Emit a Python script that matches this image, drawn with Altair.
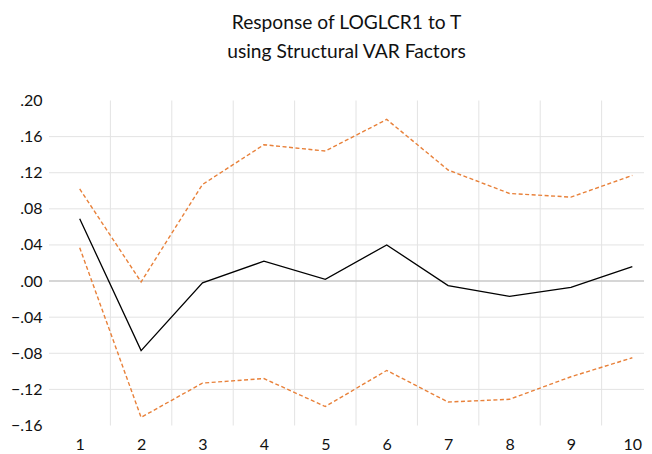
import altair as alt
import pandas as pd

periods = [1, 2, 3, 4, 5, 6, 7, 8, 9, 10]
response = [0.069, -0.077, -0.002, 0.022, 0.002, 0.040, -0.005, -0.017, -0.007, 0.016]
upper = [0.102, -0.001, 0.107, 0.151, 0.144, 0.179, 0.123, 0.097, 0.093, 0.117]
lower = [0.037, -0.151, -0.113, -0.108, -0.139, -0.099, -0.134, -0.131, -0.106, -0.085]
y_ticks = [-0.16, -0.12, -0.08, -0.04, 0.00, 0.04, 0.08, 0.12, 0.16, 0.20]
h_grid = [-0.12, -0.08, -0.04, 0.04, 0.08, 0.12, 0.16]
v_grid = [1.5, 2.5, 3.5, 4.5, 5.5, 6.5, 7.5, 8.5, 9.5]
zero_line = [0.0]
title_lines = ["Response of LOGLCR1 to T", "using Structural VAR Factors"]

resp_df = pd.DataFrame({"period": periods, "value": response})
band_df = pd.concat([
    pd.DataFrame({"period": periods, "value": upper, "series": "upper"}),
    pd.DataFrame({"period": periods, "value": lower, "series": "lower"}),
])

x_scale = alt.Scale(domain=[0.5, 10.19], nice=False, zero=False)
y_scale = alt.Scale(domain=[-0.16, 0.20], nice=False, zero=False)

x_axis = alt.Axis(
    values=periods, format="d", domain=False, ticks=False, grid=False,
    labelFont="Lato", labelFontSize=16, labelColor="#111111",
    labelPadding=11, title=None, labelFlush=False,
)
y_axis = alt.Axis(
    values=y_ticks, domain=False, ticks=False, grid=False,
    labelExpr="replace(format(datum.value, '.2f'), '0.', '.')",
    labelFont="Lato", labelFontSize=16, labelColor="#111111",
    labelPadding=7, title=None, labelFlush=False,
)

hgrid = alt.Chart(pd.DataFrame({"v": h_grid})).mark_rule(
    color="#E3E3E3", strokeWidth=1
).encode(y=alt.Y("v:Q", scale=y_scale, axis=y_axis))

vgrid = alt.Chart(pd.DataFrame({"v": v_grid})).mark_rule(
    color="#E3E3E3", strokeWidth=1
).encode(x=alt.X("v:Q", scale=x_scale, axis=x_axis))

zero = alt.Chart(pd.DataFrame({"v": zero_line})).mark_rule(
    color="#C8C8C8", strokeWidth=1.6
).encode(y=alt.Y("v:Q", scale=y_scale, axis=y_axis))

bands = alt.Chart(band_df).mark_line(
    color="#E8813A", strokeWidth=1.4, strokeDash=[4, 2.5]
).encode(
    x=alt.X("period:Q", scale=x_scale, axis=x_axis),
    y=alt.Y("value:Q", scale=y_scale, axis=y_axis),
    detail="series:N",
)

resp = alt.Chart(resp_df).mark_line(color="#000000", strokeWidth=1.3).encode(
    x=alt.X("period:Q", scale=x_scale, axis=x_axis),
    y=alt.Y("value:Q", scale=y_scale, axis=y_axis),
)

chart = alt.layer(hgrid, vgrid, zero, bands, resp).properties(
    width=595,
    height=325,
    autosize=alt.AutoSizeParams(type="none"),
    padding={"left": 41, "top": 92.5, "right": 0, "bottom": 29},
    title=alt.TitleParams(
        title_lines, font="Lato", fontSize=19.2, fontWeight="normal",
        lineHeight=29, anchor="middle", offset=30, color="#111111",
    ),
).configure(background="white").configure_view(stroke=None)

chart.save("out.html", embed_options={"renderer": "svg", "actions": False})
